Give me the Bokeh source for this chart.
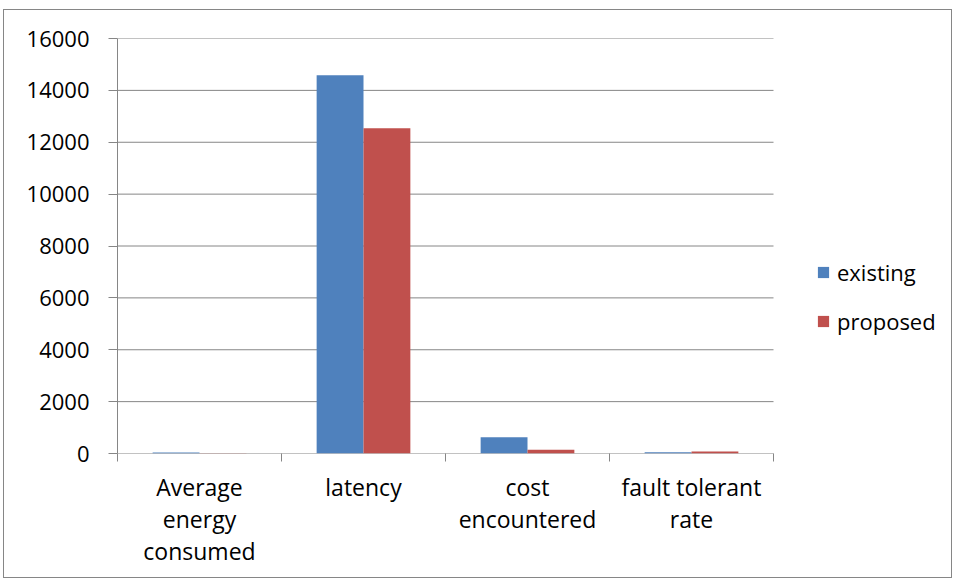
from bokeh.plotting import figure
from bokeh.models import (Range1d, FixedTicker, Legend, LegendItem, ColumnDataSource)
from bokeh.embed import file_html
from bokeh.resources import INLINE

# ---- data ----
categories = ["Average\nenergy\nconsumed", "latency", "cost\nencountered", "fault tolerant\nrate"]
existing = [40, 14580, 630, 50]
proposed = [8, 12540, 140, 75]
series_names = ["existing", "proposed"]
y_ticks = [0, 2000, 4000, 6000, 8000, 10000, 12000, 14000, 16000]

BLUE = "#4F81BD"
RED = "#C0504D"
GRAY = "#868686"
FONT = "Open Sans"

# layout (pixels)
W, H = 949, 569
LEFT, TOP, BOTTOM = 113, 28, 126
PLOT_W = 656                      # width of the category area
FRAME_W = W - LEFT
n = len(categories)
x_max = n * FRAME_W / PLOT_W      # frame extends right to host the legend

p = figure(width=W, height=H, output_backend="svg", toolbar_location=None,
           x_range=Range1d(0, x_max), y_range=Range1d(y_ticks[0], y_ticks[-1]),
           min_border_left=LEFT, min_border_top=TOP, min_border_right=0, min_border_bottom=BOTTOM)
p.styles = {"border": "1px solid #868686", "margin-left": "3px", "margin-top": "9px"}
p.outline_line_color = None
p.background_fill_color = "white"
p.border_fill_color = "white"

# gridlines limited to the category area
p.segment(x0=[0] * len(y_ticks), x1=[n] * len(y_ticks), y0=y_ticks, y1=y_ticks,
          line_color=GRAY, line_width=1, level="underlay")

bar_w = 1 / 3.5
idx = list(range(n))
src = ColumnDataSource(dict(
    x_e=[i + 0.5 - bar_w / 2 for i in idx],
    x_p=[i + 0.5 + bar_w / 2 for i in idx],
    existing=existing, proposed=proposed))

r1 = p.vbar(x="x_e", top="existing", width=bar_w, source=src, fill_color=BLUE, line_color=None)
r2 = p.vbar(x="x_p", top="proposed", width=bar_w, source=src, fill_color=RED, line_color=None)

# x axis
xa = p.xaxis[0]
xa.ticker = FixedTicker(ticks=[i + 0.5 for i in idx], minor_ticks=[float(i) for i in range(n + 1)])
xa.major_label_overrides = {i + 0.5: c for i, c in zip(idx, categories)}
xa.major_tick_out = 0
xa.major_tick_in = 0
xa.minor_tick_out = 8
xa.minor_tick_in = 0
xa.minor_tick_line_color = GRAY
xa.axis_line_color = None
xa.major_label_text_font = FONT
xa.major_label_text_font_size = "23px"
xa.major_label_text_line_height = 1.0
xa.major_label_text_color = "black"
xa.major_label_standoff = 9

# y axis
ya = p.yaxis[0]
ya.ticker = FixedTicker(ticks=y_ticks)
ya.major_tick_out = 9
ya.major_tick_in = 0
ya.minor_tick_out = 0
ya.minor_tick_in = 0
ya.major_tick_line_color = GRAY
ya.axis_line_color = GRAY
ya.major_label_text_font = FONT
ya.major_label_text_font_size = "22px"
ya.major_label_text_color = "black"
ya.major_label_standoff = 19

p.xgrid.visible = False
p.ygrid.visible = False

legend = Legend(items=[LegendItem(label=series_names[0], renderers=[r1]),
                       LegendItem(label=series_names[1], renderers=[r2])],
                location=(699, 117), orientation="vertical",
                glyph_width=14, glyph_height=14, label_height=20, spacing=19,
                label_standoff=7, padding=0, margin=0,
                border_line_color=None, background_fill_alpha=0,
                label_text_font=FONT, label_text_font_size="22px", label_text_color="black")
p.add_layout(legend, "center")

open("out.html", "w").write(file_html(p, INLINE))
